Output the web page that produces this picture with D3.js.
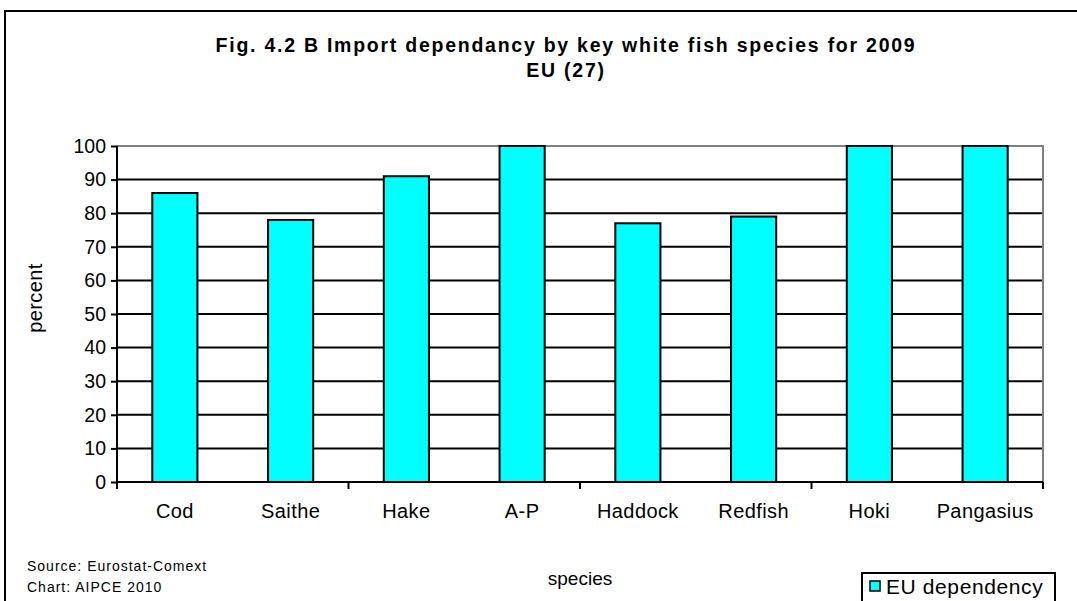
<!DOCTYPE html>
<html>
<head>
<meta charset="utf-8">
<script src="https://cdn.jsdelivr.net/npm/d3@7"></script>
<style>
  html, body { margin: 0; padding: 0; background: #fff; }
  svg { display: block; font-family: Arial, "Liberation Sans", sans-serif; }
</style>
</head>
<body>
<svg id="chart" width="1077" height="601"></svg>
<script>
// Import dependency (%) of the EU (27) by white fish species, 2009
const species = ["Cod", "Saithe", "Hake", "A-P", "Haddock", "Redfish", "Hoki", "Pangasius"];
const dependency = [86, 78, 91, 100, 77, 79, 100, 100];
const yTicks = [0, 10, 20, 30, 40, 50, 60, 70, 80, 90, 100];
const seriesName = "EU dependency";
const titleLines = ["Fig. 4.2 B  Import dependancy by key white fish species for 2009", "EU (27)"];
const sourceLines = ["Source: Eurostat-Comext", "Chart: AIPCE 2010"];

const svg = d3.select("#chart");
const plot = { left: 117, top: 146, right: 1043, bottom: 482 };
const font = "Arial, 'Liberation Sans', sans-serif";

// outer chart frame
svg.append("rect")
  .attr("x", 5).attr("y", 11).attr("width", 1100).attr("height", 620)
  .attr("fill", "#fff").attr("stroke", "#000").attr("stroke-width", 2);

// title
const title = svg.append("text")
  .attr("text-anchor", "middle").attr("font-weight", "bold").attr("font-size", 19.5)
  .attr("letter-spacing", 1.75);
title.append("tspan").attr("x", 566).attr("y", 52).text(titleLines[0]);
title.append("tspan").attr("x", 566).attr("y", 77).text(titleLines[1]);

const x = d3.scaleBand().domain(species).range([plot.left, plot.right]).paddingInner(0).paddingOuter(0);
const y = d3.scaleLinear().domain([0, 100]).range([plot.bottom, plot.top]);

// gridlines
svg.append("g").selectAll("line").data(yTicks.filter(t => t > 0 && t < 100)).join("line")
  .attr("x1", plot.left).attr("x2", plot.right)
  .attr("y1", d => y(d)).attr("y2", d => y(d))
  .attr("stroke", "#000").attr("stroke-width", 2);

// plot-area border (top and right in grey)
svg.append("path")
  .attr("d", `M${plot.left},${y(100)}H${plot.right}V${plot.bottom}`)
  .attr("fill", "none").attr("stroke", "#808080").attr("stroke-width", 2);

// bars
const barW = x.bandwidth() * 0.39;
svg.append("g").selectAll("rect").data(species).join("rect")
  .attr("x", (d) => x(d) + (x.bandwidth() - barW) / 2)
  .attr("y", (d, i) => y(dependency[i]))
  .attr("width", barW)
  .attr("height", (d, i) => y(0) - y(dependency[i]))
  .attr("fill", "#00FFFF").attr("stroke", "#000").attr("stroke-width", 2);

// y axis
const yAxis = d3.axisLeft(y).tickValues(yTicks).tickSize(6).tickPadding(5).tickFormat(d3.format("d"));
const gy = svg.append("g").attr("transform", `translate(${plot.left},0)`).call(yAxis);
gy.select(".domain").attr("stroke", "#000").attr("stroke-width", 2).attr("d", `M0,${plot.top}V${plot.bottom}`);
gy.selectAll(".tick line").attr("stroke", "#000").attr("stroke-width", 2);
gy.selectAll(".tick text").attr("font-size", 19.5).attr("fill", "#000").attr("font-family", font);

// x axis: labels per category, tick marks every second category boundary
const xAxis = d3.axisBottom(x).tickSize(0).tickPadding(22);
const gx = svg.append("g").attr("transform", `translate(0,${plot.bottom})`).call(xAxis);
gx.select(".domain").attr("stroke", "#000").attr("stroke-width", 2).attr("d", `M${plot.left},0H${plot.right}`);
gx.selectAll(".tick text").attr("font-size", 20).attr("letter-spacing", 0.4)
  .attr("fill", "#000").attr("font-family", font);
const boundaries = d3.range(0, species.length + 1, 2);
gx.append("g").selectAll("line").data(boundaries).join("line")
  .attr("x1", i => plot.left + i * x.step()).attr("x2", i => plot.left + i * x.step())
  .attr("y1", 0).attr("y2", 7)
  .attr("stroke", "#000").attr("stroke-width", 2);

// axis titles
svg.append("text").attr("transform", "translate(42,298) rotate(-90)")
  .attr("text-anchor", "middle").attr("font-size", 20).attr("letter-spacing", 0.4).text("percent");
svg.append("text").attr("x", (plot.left + plot.right) / 2).attr("y", 585)
  .attr("text-anchor", "middle").attr("font-size", 19).text("species");

// source notes
svg.append("g").selectAll("text").data(sourceLines).join("text")
  .attr("x", 27).attr("y", (d, i) => 571 + i * 21)
  .attr("font-size", 14).attr("letter-spacing", 1).text(d => d);

// legend
const lg = svg.append("g");
lg.append("rect").attr("x", 862).attr("y", 573).attr("width", 193).attr("height", 40)
  .attr("fill", "#fff").attr("stroke", "#000").attr("stroke-width", 2);
lg.append("rect").attr("x", 870).attr("y", 581).attr("width", 10).attr("height", 10)
  .attr("fill", "#00FFFF").attr("stroke", "#000").attr("stroke-width", 1.5);
lg.append("text").attr("x", 886).attr("y", 594).attr("font-size", 21).attr("letter-spacing", 0.6).text(seriesName);
</script>
</body>
</html>
